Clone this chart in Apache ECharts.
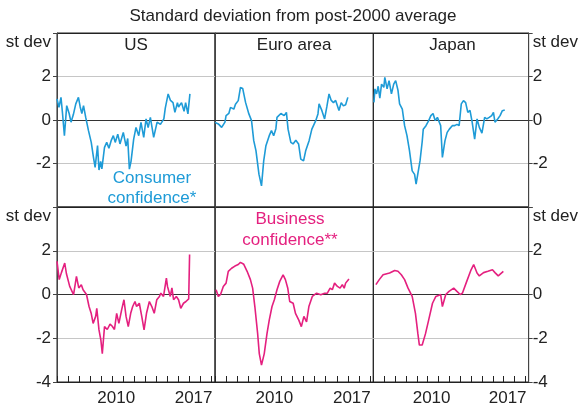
<!DOCTYPE html>
<html>
<head>
<meta charset="utf-8">
<script src="https://cdn.jsdelivr.net/npm/echarts@6/dist/echarts.min.js"></script>
<style>
  html, body { margin: 0; padding: 0; background: #fff; }
  #main { width: 581px; height: 407px; }
</style>
</head>
<body>
<div id="main"></div>
<script>
// panel names and tick labels
const panels = ['US', 'Euro area', 'Japan'];
const xLabelYears = [2010, 2017];
const yUnit = 'st dev';
const subtitle = 'Standard deviation from post-2000 average';

// consumer confidence, [year, st dev]
const usConsumer = [[2005.0,0.97],[2005.18,0.58],[2005.36,1.04],[2005.5,0.3],[2005.67,-0.72],[2005.88,0.66],[2006.1,0.3],[2006.27,-0.1],[2006.48,0.25],[2006.7,0.74],[2006.94,1.04],[2007.1,0.6],[2007.25,0.3],[2007.4,0.66],[2007.6,0.12],[2007.85,-0.49],[2008.1,-1.03],[2008.3,-1.72],[2008.45,-2.18],[2008.67,-1.18],[2008.8,-2.3],[2008.95,-1.9],[2009.06,-2.25],[2009.3,-1.26],[2009.5,-1.03],[2009.7,-1.3],[2009.9,-0.95],[2010.1,-0.72],[2010.27,-1.03],[2010.5,-0.65],[2010.7,-1.1],[2011.0,-0.57],[2011.25,-1.2],[2011.4,-0.85],[2011.55,-2.26],[2011.7,-1.9],[2011.94,-0.88],[2012.15,-0.34],[2012.4,-0.72],[2012.6,-0.11],[2012.85,-0.8],[2013.06,0.05],[2013.25,-0.35],[2013.45,0.12],[2013.75,-0.8],[2014.06,-0.1],[2014.36,-0.2],[2014.67,0.05],[2014.8,0.55],[2015.06,1.2],[2015.27,0.9],[2015.5,0.8],[2015.67,0.35],[2015.9,0.8],[2016.0,0.6],[2016.27,0.8],[2016.5,0.4],[2016.64,0.8],[2016.85,0.28],[2017.03,1.2]];
const euroConsumer = [[2005.0,-0.11],[2005.3,-0.18],[2005.6,-0.34],[2005.9,-0.1],[2006.0,0.2],[2006.25,0.3],[2006.4,0.58],[2006.7,0.5],[2006.85,0.72],[2007.1,0.89],[2007.3,1.5],[2007.5,1.45],[2007.76,0.81],[2008.06,0.28],[2008.3,-0.03],[2008.5,-0.95],[2008.7,-1.41],[2008.97,-2.49],[2009.2,-3.03],[2009.4,-1.88],[2009.6,-1.18],[2009.9,-0.72],[2010.1,-0.49],[2010.3,-0.72],[2010.5,-0.4],[2010.6,0.12],[2010.95,0.3],[2011.25,0.2],[2011.45,0.35],[2011.6,-0.42],[2011.85,-1.03],[2012.05,-1.1],[2012.3,-0.93],[2012.55,-1.1],[2012.75,-1.8],[2013.0,-1.88],[2013.2,-1.4],[2013.5,-0.95],[2013.75,-0.42],[2014.1,-0.03],[2014.3,0.28],[2014.4,0.74],[2014.65,0.44],[2014.9,0.05],[2015.1,0.6],[2015.3,1.2],[2015.5,0.9],[2015.7,0.8],[2015.9,0.9],[2016.2,0.44],[2016.4,0.8],[2016.6,0.65],[2016.8,0.7],[2017.0,1.04]];
const japanConsumer = [[2005.06,0.81],[2005.15,1.43],[2005.3,1.2],[2005.45,1.55],[2005.6,1.0],[2005.76,1.65],[2005.97,1.5],[2006.06,1.96],[2006.27,1.43],[2006.45,1.81],[2006.67,1.2],[2006.88,1.65],[2007.06,1.81],[2007.27,1.37],[2007.42,0.74],[2007.67,0.5],[2007.88,-0.26],[2008.1,-0.72],[2008.33,-1.41],[2008.58,-2.34],[2008.8,-2.5],[2008.94,-2.95],[2009.1,-3.03],[2009.3,-1.88],[2009.5,-1.0],[2009.6,-0.42],[2009.85,-0.26],[2010.1,-0.03],[2010.3,0.2],[2010.5,0.3],[2010.7,-0.03],[2010.9,0.12],[2011.06,0.2],[2011.2,-0.26],[2011.36,-1.72],[2011.6,-0.95],[2011.8,-0.57],[2012.0,-0.42],[2012.27,-0.26],[2012.5,-0.26],[2012.7,-0.2],[2012.9,-0.26],[2013.1,0.74],[2013.3,0.89],[2013.5,0.8],[2013.7,0.35],[2013.9,0.44],[2014.1,-0.1],[2014.33,-0.88],[2014.55,0.05],[2014.76,-0.34],[2015.0,-0.6],[2015.25,0.12],[2015.45,0.05],[2015.67,0.12],[2015.9,0.2],[2016.06,0.35],[2016.2,-0.1],[2016.45,0.05],[2016.67,0.2],[2016.88,0.43],[2017.1,0.46]];

// business confidence, [year, st dev]
const usBusiness = [[2005.0,1.52],[2005.2,0.68],[2005.4,1.0],[2005.7,1.44],[2005.85,0.96],[2006.0,1.0],[2006.15,0.37],[2006.3,0.45],[2006.5,-0.01],[2006.76,0.83],[2006.97,0.3],[2007.2,0.45],[2007.36,0.22],[2007.5,0.3],[2007.67,0.0],[2007.9,-0.55],[2008.1,-0.87],[2008.27,-1.32],[2008.5,-1.0],[2008.6,-0.63],[2008.8,-1.62],[2008.97,-2.08],[2009.1,-2.7],[2009.3,-1.47],[2009.55,-1.6],[2009.8,-1.35],[2010.0,-1.45],[2010.2,-1.6],[2010.4,-0.86],[2010.6,-1.32],[2010.85,-0.7],[2011.06,-0.24],[2011.25,-1.0],[2011.45,-1.47],[2011.67,-0.86],[2011.85,-0.55],[2012.06,-0.32],[2012.2,-0.55],[2012.45,-0.4],[2012.67,-1.0],[2012.88,-1.62],[2013.1,-0.86],[2013.36,-0.32],[2013.58,-0.55],[2013.8,-0.86],[2014.03,-0.24],[2014.27,-0.09],[2014.4,0.06],[2014.64,-0.09],[2014.9,0.75],[2015.0,0.37],[2015.25,-0.09],[2015.4,0.3],[2015.55,-0.24],[2015.8,-0.09],[2016.0,-0.24],[2016.2,-0.63],[2016.45,-0.4],[2016.67,-0.32],[2016.82,-0.24],[2016.92,-0.2],[2017.0,1.83]];
const euroBusiness = [[2005.1,0.22],[2005.3,-0.09],[2005.5,0.0],[2005.75,0.37],[2006.0,0.52],[2006.2,1.06],[2006.5,1.2],[2006.8,1.3],[2007.1,1.37],[2007.3,1.47],[2007.6,1.38],[2007.7,1.43],[2007.9,1.06],[2008.2,0.68],[2008.4,0.29],[2008.6,-0.55],[2008.85,-1.78],[2009.0,-2.7],[2009.2,-3.23],[2009.45,-2.7],[2009.7,-1.78],[2009.9,-1.17],[2010.15,-0.55],[2010.36,-0.24],[2010.6,0.22],[2010.85,0.6],[2011.15,0.9],[2011.36,0.68],[2011.57,0.3],[2011.75,-0.32],[2012.06,-0.4],[2012.27,-0.86],[2012.57,-1.17],[2012.8,-1.47],[2013.03,-1.0],[2013.27,-1.25],[2013.48,-0.55],[2013.79,-0.09],[2014.18,0.06],[2014.55,-0.01],[2014.7,-0.09],[2014.9,0.06],[2015.15,0.06],[2015.4,0.29],[2015.6,0.22],[2015.8,0.52],[2016.06,0.37],[2016.3,0.29],[2016.5,0.45],[2016.67,0.29],[2016.8,0.52],[2017.1,0.71]];
const japanBusiness = [[2005.24,0.45],[2005.55,0.68],[2005.9,0.9],[2006.5,0.98],[2006.97,1.1],[2007.27,1.06],[2007.58,0.9],[2007.88,0.68],[2008.2,0.29],[2008.58,-0.09],[2008.88,-0.86],[2009.1,-1.78],[2009.24,-2.31],[2009.5,-2.31],[2009.8,-1.8],[2010.1,-1.16],[2010.45,-0.4],[2010.76,-0.09],[2011.0,-0.05],[2011.2,0.0],[2011.36,-0.55],[2011.67,0.0],[2011.97,0.14],[2012.4,0.29],[2012.7,0.14],[2013.0,0.0],[2013.2,0.06],[2013.6,0.6],[2014.0,1.13],[2014.24,1.37],[2014.55,0.98],[2014.76,0.85],[2015.15,1.0],[2015.55,1.06],[2015.97,1.13],[2016.2,1.0],[2016.5,0.85],[2016.97,1.06]];

const blue = '#1e9bd7';
const pink = '#e4207f';
const txt = '#222';
const font = 'Liberation Sans, Arial, sans-serif';

const myChart = echarts.init(document.getElementById('main'));

const colLeft = [57, 215, 373.3];
const colWidth = [158, 158.3, 158.4];
const rowTop = [33, 207];
const rowHeight = [174, 175];

const grids = [], xAxes = [], yAxes = [], series = [];
const rows = [
  [usConsumer, euroConsumer, japanConsumer],
  [usBusiness, euroBusiness, japanBusiness]
];

rows.forEach(function (row, r) {
  row.forEach(function (data, c) {
    const i = r * 3 + c;
    grids.push({
      left: colLeft[c], top: rowTop[r], width: colWidth[c], height: rowHeight[r],
      show: true, borderColor: '#222', borderWidth: 1, backgroundColor: 'transparent'
    });
    xAxes.push({
      type: 'value', gridIndex: i, min: 2005, max: 2019.3, interval: 1,
      axisLine: {show: r === 1, onZero: false, lineStyle: {color: '#222'}},
      axisTick: {show: r === 1, inside: true, length: 6, lineStyle: {color: '#222'}},
      splitLine: {show: false},
      axisLabel: {
        show: r === 1, interval: 0, hideOverlap: false, margin: 8,
        color: txt, fontSize: 17, fontFamily: font, padding: [0, 0, 0, 8],
        showMinLabel: true, showMaxLabel: false,
        formatter: function (v) { return xLabelYears.indexOf(v) >= 0 ? String(v) : ''; }
      }
    });
    const side = c === 2 ? 'right' : 'left';
    const showLab = c !== 1;
    yAxes.push({
      type: 'value', gridIndex: i, min: -4, max: 4, interval: 2, position: side,
      axisLine: {show: true, onZero: false, lineStyle: {color: '#444'}},
      axisTick: {show: showLab, length: 4, lineStyle: {color: '#444'}},
      splitLine: {show: true, lineStyle: {color: ['#222', '#c6c6c6', '#333', '#c6c6c6', '#222'], width: 1}},
      axisLabel: {
        show: showLab, color: txt, fontSize: 17, fontFamily: font,
        margin: c === 2 ? 4 : 6,
        showMinLabel: true, showMaxLabel: true,
        formatter: function (v) {
          if (v === 4) return '{s|' + yUnit + '}';
          if (v === -4 && r === 0) return '';
          return String(v);
        },
        rich: {s: {fontSize: 17, fontFamily: font, color: txt, padding: [18, 0, 0, 0]}}
      }
    });
    series.push({
      type: 'line', xAxisIndex: i, yAxisIndex: i, data: data,
      showSymbol: false, symbol: 'none', silent: true,
      lineStyle: {color: r === 0 ? blue : pink, width: 1.6},
      z: 5
    });
  });
});

// panel titles, subtitle and series notes
const graphics = [
  {type: 'text', x: 293, y: 8, style: {text: subtitle, fill: txt, font: '17px ' + font, textAlign: 'center'}}
];
panels.forEach(function (p, c) {
  graphics.push({
    type: 'text', x: colLeft[c] + colWidth[c] / 2, y: 37,
    style: {text: p, fill: txt, font: '17px ' + font, textAlign: 'center'}
  });
});
graphics.push({
  type: 'text', x: 152, y: 168,
  style: {text: 'Consumer\nconfidence*', fill: blue, font: '17px ' + font, textAlign: 'center', lineHeight: 20}
});
graphics.push({
  type: 'text', x: 290, y: 209,
  style: {text: 'Business\nconfidence**', fill: pink, font: '17px ' + font, textAlign: 'center', lineHeight: 21}
});

const option = {
  animation: false,
  backgroundColor: '#fff',
  grid: grids,
  xAxis: xAxes,
  yAxis: yAxes,
  series: series,
  graphic: graphics
};
myChart.setOption(option);
</script>
</body>
</html>
